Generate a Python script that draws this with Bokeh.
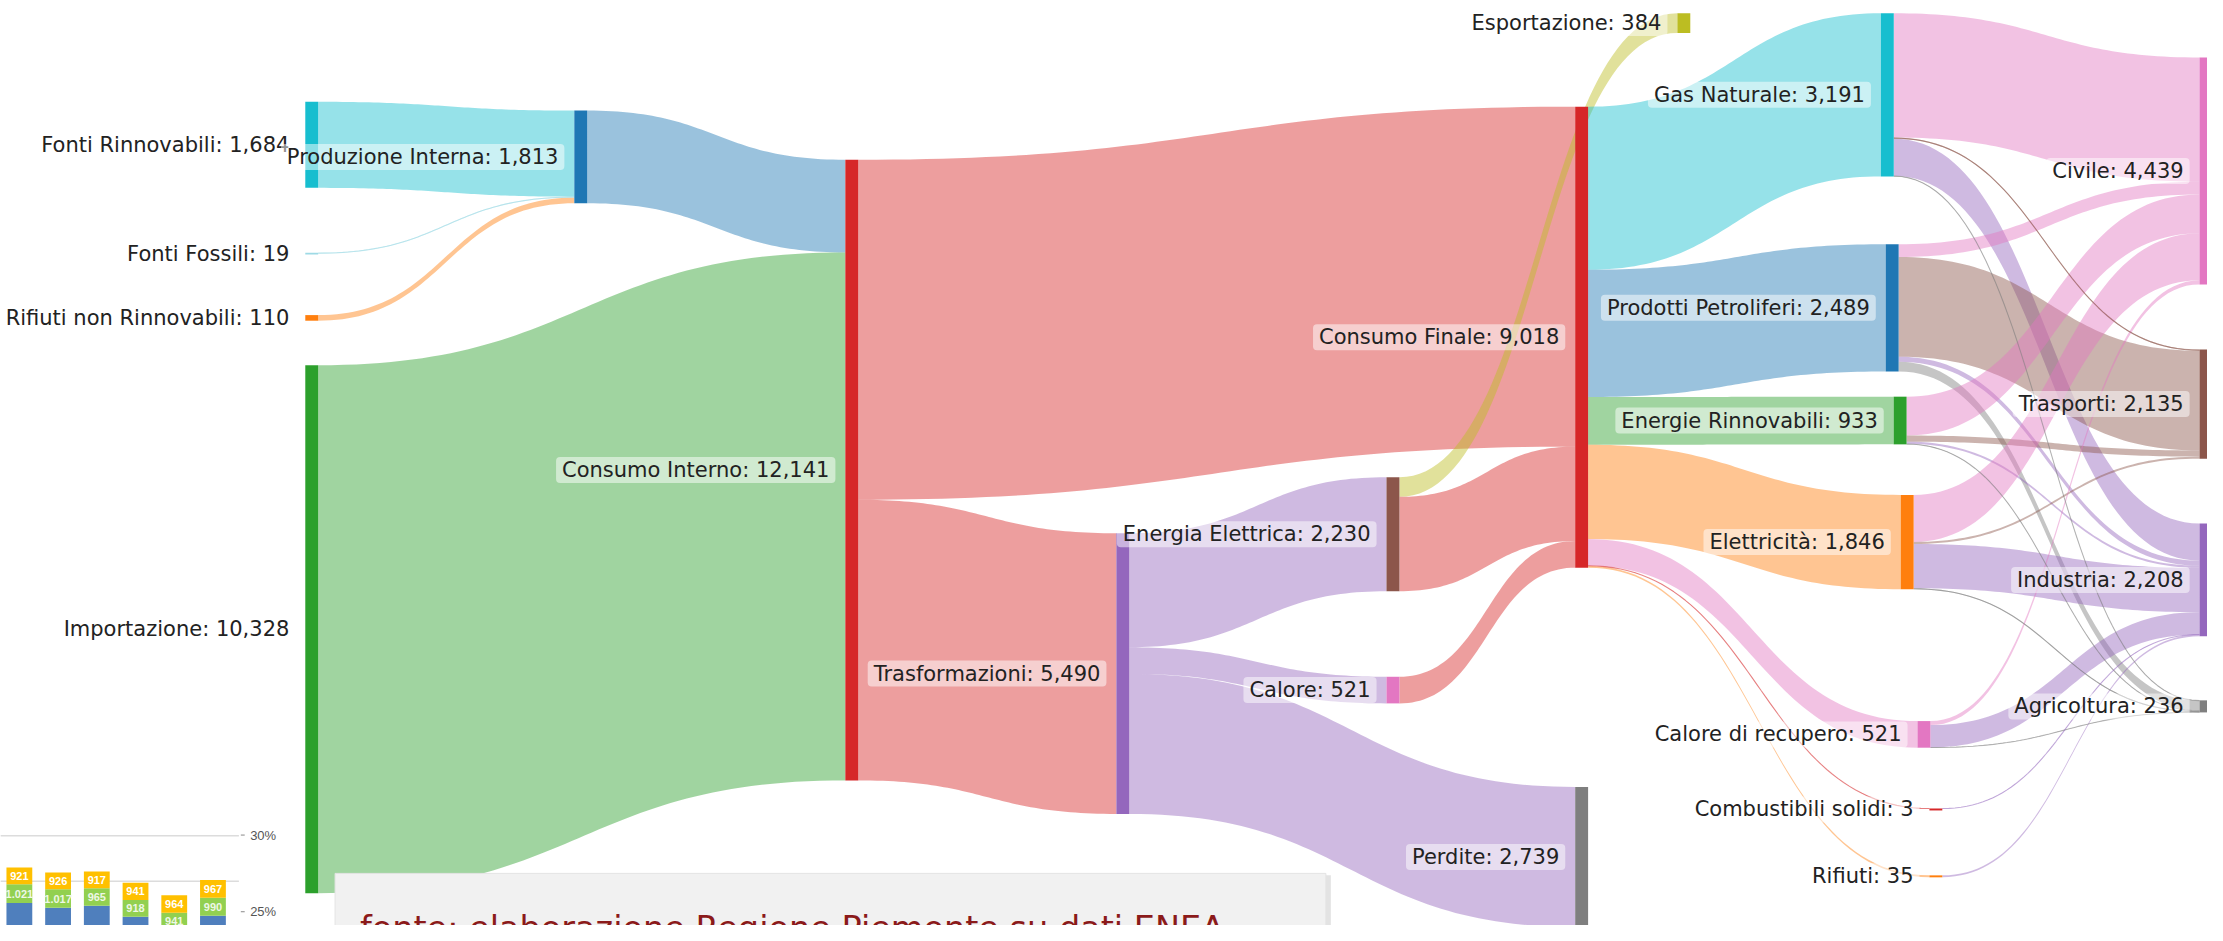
import numpy as np
from bokeh.plotting import figure
from bokeh.models import Range1d
from bokeh.core.properties import value
from bokeh.embed import file_html
from bokeh.resources import INLINE

# ---------------- data ----------------
node_names = [
    "Fonti Rinnovabili", "Fonti Fossili", "Rifiuti non Rinnovabili", "Importazione",
    "Produzione Interna", "Consumo Interno", "Trasformazioni",
    "Energia Elettrica", "Calore", "Esportazione",
    "Consumo Finale", "Perdite",
    "Gas Naturale", "Prodotti Petroliferi", "Energie Rinnovabili", "Elettricità",
    "Calore di recupero", "Combustibili solidi", "Rifiuti",
    "Civile", "Trasporti", "Industria", "Agricoltura",
]

link_source = [
    "Fonti Rinnovabili", "Fonti Fossili", "Rifiuti non Rinnovabili",
    "Produzione Interna", "Importazione",
    "Consumo Interno", "Consumo Interno",
    "Trasformazioni", "Trasformazioni", "Trasformazioni",
    "Energia Elettrica", "Energia Elettrica", "Calore",
    "Consumo Finale", "Consumo Finale", "Consumo Finale", "Consumo Finale",
    "Consumo Finale", "Consumo Finale", "Consumo Finale",
    "Gas Naturale", "Gas Naturale", "Gas Naturale", "Gas Naturale",
    "Prodotti Petroliferi", "Prodotti Petroliferi", "Prodotti Petroliferi", "Prodotti Petroliferi",
    "Energie Rinnovabili", "Energie Rinnovabili", "Energie Rinnovabili", "Energie Rinnovabili",
    "Elettricità", "Elettricità", "Elettricità", "Elettricità",
    "Calore di recupero", "Calore di recupero", "Calore di recupero",
    "Combustibili solidi", "Rifiuti",
]
link_target = [
    "Produzione Interna", "Produzione Interna", "Produzione Interna",
    "Consumo Interno", "Consumo Interno",
    "Consumo Finale", "Trasformazioni",
    "Energia Elettrica", "Calore", "Perdite",
    "Esportazione", "Consumo Finale", "Consumo Finale",
    "Gas Naturale", "Prodotti Petroliferi", "Energie Rinnovabili", "Elettricità",
    "Calore di recupero", "Combustibili solidi", "Rifiuti",
    "Civile", "Trasporti", "Industria", "Agricoltura",
    "Civile", "Trasporti", "Industria", "Agricoltura",
    "Civile", "Trasporti", "Industria", "Agricoltura",
    "Civile", "Trasporti", "Industria", "Agricoltura",
    "Civile", "Industria", "Agricoltura",
    "Industria", "Industria",
]
link_value = [
    1684, 19, 110,
    1813, 10328,
    6651, 5490,
    2230, 521, 2739,
    384, 1846, 521,
    3191, 2489, 933, 1846, 521, 3, 35,
    2430, 25, 726, 10,
    250, 1950, 100, 189,
    760, 120, 42, 11,
    920, 40, 866, 20,
    79, 436, 6,
    3, 35,
]

# fragment of a stacked bar chart visible at the bottom-left corner
bar_blue = [3811, 3541, 3649, 3054, 2329, 3108]
bar_green = [1021, 1017, 965, 918, 941, 990]
bar_yellow = [921, 926, 917, 941, 964, 967]
bar_green_labels = ["1.021", "1.017", "965", "918", "941", "990"]
bar_yellow_labels = ["921", "926", "917", "941", "964", "967"]
bar_grid_values = [7500, 5000]
pct_ticks = [30, 25]
pct_tick_labels = ["30%", "25%"]

caption = "fonte: elaborazione Regione Piemonte su dati ENEA"

# ---------------- styles / layout ----------------
C = {"blue": "#1f77b4", "orange": "#ff7f0e", "green": "#2ca02c", "red": "#d62728",
     "purple": "#9467bd", "brown": "#8c564b", "pink": "#e377c2", "gray": "#7f7f7f",
     "olive": "#bcbd22", "cyan": "#17becf"}
node_color = {
    "Fonti Rinnovabili": C["cyan"], "Fonti Fossili": "#9edae5",
    "Rifiuti non Rinnovabili": C["orange"], "Importazione": C["green"],
    "Produzione Interna": C["blue"], "Consumo Interno": C["red"],
    "Trasformazioni": C["purple"], "Energia Elettrica": C["brown"], "Calore": C["pink"],
    "Esportazione": C["olive"], "Consumo Finale": C["red"], "Perdite": C["gray"],
    "Gas Naturale": C["cyan"], "Prodotti Petroliferi": C["blue"],
    "Energie Rinnovabili": C["green"], "Elettricità": C["orange"],
    "Calore di recupero": C["pink"], "Combustibili solidi": C["red"], "Rifiuti": C["orange"],
    "Civile": C["pink"], "Trasporti": C["brown"], "Industria": C["purple"],
    "Agricoltura": C["gray"],
}
# links of the first stages take the source colour, the later ones the target colour
color_by_source = set(range(10))

# node arrangement (fractions of the frame, like plotly node.x / node.y)
node_arrangement = {
    "Fonti Rinnovabili": (0.1381, 0.1095), "Fonti Fossili": (0.1381, 0.2726),
    "Rifiuti non Rinnovabili": (0.1381, 0.3401), "Importazione": (0.1381, 0.3943),
    "Produzione Interna": (0.2600, 0.1190), "Consumo Interno": (0.3828, 0.1722),
    "Trasformazioni": (0.5056, 0.5760),
    "Energia Elettrica": (0.6280, 0.5154), "Calore": (0.6280, 0.7311),
    "Esportazione": (0.7598, 0.0138),
    "Consumo Finale": (0.7135, 0.1148), "Perdite": (0.7135, 0.8502),
    "Gas Naturale": (0.8520, 0.0138), "Prodotti Petroliferi": (0.8542, 0.2635),
    "Energie Rinnovabili": (0.8578, 0.4283), "Elettricità": (0.8610, 0.5345),
    "Calore di recupero": (0.8686, 0.7790), "Combustibili solidi": (0.8740, 0.8735),
    "Rifiuti": (0.8740, 0.9458),
    "Civile": (0.9964, 0.0616), "Trasporti": (0.9964, 0.3773),
    "Industria": (0.9964, 0.5654), "Agricoltura": (0.9964, 0.7566),
}
W, H = 2223.0, 941.0        # frame units
NODE_W = 13.0
K = 0.052                   # frame units per ktep
LINK_ALPHA = 0.45
FONT = "DejaVu Sans"

p = figure(width=2207, height=925, x_range=Range1d(0, W), y_range=Range1d(H, 0),
           output_backend="svg", toolbar_location=None, min_border=0,
           x_axis_type=None, y_axis_type=None)
p.grid.visible = False
p.outline_line_color = None
p.background_fill_color = "white"
p.border_fill_color = "white"

N = len(node_names)
idx = {n: i for i, n in enumerate(node_names)}
src = [idx[s] for s in link_source]
tgt = [idx[t] for t in link_target]
vin = np.zeros(N)
vout = np.zeros(N)
for s, t, v in zip(src, tgt, link_value):
    vout[s] += v
    vin[t] += v
node_val = np.maximum(vin, vout)
nx0 = np.array([node_arrangement[n][0] for n in node_names]) * W
ny0 = np.array([node_arrangement[n][1] for n in node_names]) * H
nh = np.maximum(node_val * K, 2.0)
nx1 = nx0 + NODE_W
ny1 = ny0 + nh
ncy = (ny0 + ny1) / 2

L = len(link_value)
th = np.array(link_value, dtype=float) * K
s_top = np.zeros(L)
t_top = np.zeros(L)
off_out = ny0.copy()
off_in = ny0.copy()
for i in sorted(range(L), key=lambda i: (src[i], ncy[tgt[i]])):
    s_top[i] = off_out[src[i]]
    off_out[src[i]] += th[i]
for i in sorted(range(L), key=lambda i: (tgt[i], ncy[src[i]])):
    t_top[i] = off_in[tgt[i]]
    off_in[tgt[i]] += th[i]

tt = np.linspace(0, 1, 60)


def bez(xa, xb, ya, yb):
    xm = (xa + xb) / 2
    x = (1 - tt) ** 3 * xa + 3 * (1 - tt) ** 2 * tt * xm + 3 * (1 - tt) * tt ** 2 * xm + tt ** 3 * xb
    y = (1 - tt) ** 3 * ya + 3 * (1 - tt) ** 2 * tt * ya + 3 * (1 - tt) * tt ** 2 * yb + tt ** 3 * yb
    return x, y


xs, ys, cols = [], [], []
lxs, lys, lcols = [], [], []
for i in range(L):
    s, t = src[i], tgt[i]
    xa, xb = nx1[s], nx0[t]
    tx, ty = bez(xa, xb, s_top[i], t_top[i])
    bx, by = bez(xa, xb, s_top[i] + th[i], t_top[i] + th[i])
    xs.append(np.concatenate([tx, bx[::-1]]).tolist())
    ys.append(np.concatenate([ty, by[::-1]]).tolist())
    col = node_color[node_names[s]] if i in color_by_source else node_color[node_names[t]]
    cols.append(col)
    if th[i] < 1.6:
        cx, cy = bez(xa, xb, s_top[i] + th[i] / 2, t_top[i] + th[i] / 2)
        lxs.append(cx.tolist())
        lys.append(cy.tolist())
        lcols.append(col)

p.patches(xs, ys, fill_color=cols, fill_alpha=LINK_ALPHA, line_color=None)
p.multi_line(lxs, lys, line_color=lcols, line_alpha=0.55, line_width=1.1)

p.quad(left=nx0, right=nx1, top=ny0, bottom=ny1,
       fill_color=[node_color[n] for n in node_names], line_color=None)

# ---- caption box (drawn over the flows) ----
p.quad(left=[337 + 3], right=[1335 + 5], top=[888 + 2], bottom=[H + 20],
       fill_color="#b0b0b0", fill_alpha=0.35, line_color=None)
p.quad(left=[337], right=[1335], top=[888], bottom=[H + 20],
       fill_color="#f1f1f1", line_color="#e4e4e4", line_width=1)
p.text(x=[362], y=[924], text=[caption], text_font=value(FONT), text_font_size="33.5px",
       text_color="#8b1a1a", text_align="left", text_baseline="top")

# ---- bar chart fragment (own scales) ----
bar_first, bar_pitch, bar_w = 19.0, 39.0, 26.0
v_ref, y_ref, px_per_v = 5000.0, 896.0, 0.0185
pct_ref, pct_y, px_per_pct = 30.0, 849.0, 15.6
p.extra_x_ranges = {"bx": Range1d((0 - bar_first) / bar_pitch, (W - bar_first) / bar_pitch)}
p.extra_y_ranges = {
    "by": Range1d(v_ref + (y_ref - H) / px_per_v, v_ref + y_ref / px_per_v),
    "pct": Range1d(pct_ref + (pct_y - H) / px_per_pct, pct_ref + pct_y / px_per_pct),
}
nb = len(bar_blue)
bxs = list(range(nb))
p.segment(x0=[-0.49] * len(bar_grid_values), x1=[5.67] * len(bar_grid_values),
          y0=bar_grid_values, y1=bar_grid_values, line_color="#dcdcdc", line_width=1.5,
          x_range_name="bx", y_range_name="by")
blue = np.array(bar_blue, float)
green = np.array(bar_green, float)
yellow = np.array(bar_yellow, float)
bw = bar_w / bar_pitch
p.vbar(x=bxs, width=bw, bottom=0, top=blue, fill_color="#4f7fbd", line_color=None,
       x_range_name="bx", y_range_name="by")
p.vbar(x=bxs, width=bw, bottom=blue, top=blue + green, fill_color="#92d050", line_color=None,
       x_range_name="bx", y_range_name="by")
p.vbar(x=bxs, width=bw, bottom=blue + green, top=blue + green + yellow, fill_color="#ffc000",
       line_color=None, x_range_name="bx", y_range_name="by")
p.text(x=bxs, y=blue + green / 2, text=bar_green_labels, text_font=value("Liberation Sans"),
       text_font_size="11px", text_font_style="bold", text_color="#eef7e6",
       text_align="center", text_baseline="middle", x_range_name="bx", y_range_name="by")
p.text(x=bxs, y=blue + green + yellow / 2, text=bar_yellow_labels,
       text_font=value("Liberation Sans"), text_font_size="11px", text_font_style="bold",
       text_color="white", text_align="center", text_baseline="middle",
       x_range_name="bx", y_range_name="by")
p.segment(x0=[5.72] * 2, x1=[5.82] * 2, y0=pct_ticks, y1=pct_ticks, line_color="#888888",
          line_width=1, x_range_name="bx", y_range_name="pct")
p.text(x=[5.96] * 2, y=pct_ticks, text=pct_tick_labels, text_font=value("Liberation Sans"),
       text_font_size="13px", text_color="#555555", text_align="left", text_baseline="middle",
       x_range_name="bx", y_range_name="pct")

# ---- node labels ----
labels = [f"{n}: {int(round(v)):,}" for n, v in zip(node_names, node_val)]
p.text(x=nx0 - 10, y=ncy, text=labels, text_font=value(FONT), text_font_size="21px",
       text_color="#222222", text_align="right", text_baseline="middle",
       background_fill_color="white", background_fill_alpha=0.5,
       border_radius=4, padding=dict(left=6, right=6, top=1, bottom=1))

open("out.html", "w").write(file_html(p, INLINE))
